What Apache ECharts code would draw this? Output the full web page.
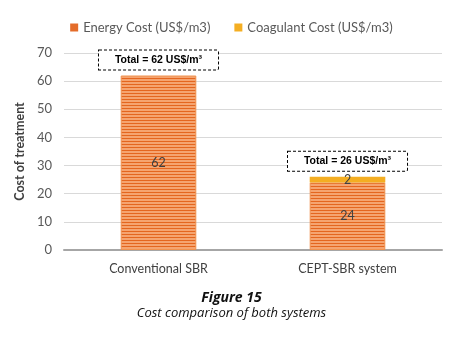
<!DOCTYPE html>
<html><head><meta charset="utf-8">
<script src="https://cdn.jsdelivr.net/npm/echarts@6/dist/echarts.min.js"></script>
<style>html,body{margin:0;padding:0;background:#fff}#c{width:463px;height:338px}</style>
</head><body><div id="c"></div>
<script>
const categories = ['Conventional SBR', 'CEPT-SBR system'];
const energyCost = [62, 24];
const coagulantCost = [null, 2];
const totals = [62, 26];
const yTicks = {min: 0, max: 70, interval: 10};

function stripe() {
  const c = document.createElement('canvas');
  c.width = 4; c.height = 3;
  const g = c.getContext('2d');
  g.fillStyle = '#F5A470'; g.fillRect(0, 0, 4, 3);
  g.fillStyle = '#E4661F'; g.fillRect(0, 0, 4, 1);
  return c;
}
const pattern = {image: stripe(), repeat: 'repeat'};

const chart = echarts.init(document.getElementById('c'));
chart.setOption({
  animation: false,
  textStyle: {fontFamily: 'Lato'},
  title: {
    text: 'Figure 15', subtext: 'Cost comparison of both systems',
    left: 'center', top: 286, itemGap: 2,
    textStyle: {fontFamily: 'Open Sans', fontStyle: 'italic', fontWeight: 'bold', fontSize: 14, color: '#111'},
    subtextStyle: {fontFamily: 'Open Sans', fontStyle: 'italic', fontSize: 13, color: '#111'}
  },
  legend: {
    data: [
      {name: 'Energy Cost (US$/m3)', itemStyle: {color: '#E46C2A', borderWidth: 0, decal: 'none'}},
      {name: 'Coagulant Cost (US$/m3)', itemStyle: {color: '#F4AE22', borderWidth: 0}}
    ],
    top: 16, left: 'center', itemWidth: 8, itemHeight: 8, itemGap: 24, icon: 'rect',
    textStyle: {fontSize: 13, color: '#595959', fontFamily: 'Lato'}
  },
  grid: {left: 64, right: 21, top: 53, bottom: 88},
  xAxis: {
    type: 'category', data: categories,
    axisTick: {show: false},
    axisLine: {lineStyle: {color: '#A6A6A6', width: 2}},
    axisLabel: {fontSize: 12.5, color: '#404040', margin: 12}
  },
  yAxis: {
    type: 'value', min: yTicks.min, max: yTicks.max, interval: yTicks.interval,
    name: 'Cost of treatment', nameLocation: 'middle', nameGap: 33,
    nameTextStyle: {fontSize: 12.5, fontWeight: 'bold', color: '#404040'},
    axisLabel: {fontSize: 13, color: '#595959', margin: 12},
    splitLine: {lineStyle: {color: '#D9D9D9'}}
  },
  series: [
    {
      name: 'Energy Cost (US$/m3)', type: 'bar', stack: 's', barWidth: '40%',
      data: energyCost.map(v => ({value: v, itemStyle: {color: pattern}})),
      itemStyle: {color: '#E46C2A', borderColor: '#F0924F', borderWidth: 1},
      label: {show: true, position: 'inside', color: '#404040', fontSize: 12.5}
    },
    {
      name: 'Coagulant Cost (US$/m3)', type: 'bar', stack: 's', data: coagulantCost, barWidth: '40%',
      itemStyle: {color: '#F4AE22'},
      label: {show: true, position: 'inside', color: '#404040', fontSize: 12.5}
    },
    {
      name: 'Total', type: 'bar', data: totals, barWidth: '40%', barGap: '-100%',
      itemStyle: {color: 'rgba(0,0,0,0)'}, silent: true, z: 10,
      label: {
        show: true, position: 'top', distance: 6,
        formatter: p => 'Total = ' + p.value + ' US$/m³',
        fontFamily: 'Liberation Sans', fontWeight: 'bold', fontSize: 10.5, color: '#000',
        backgroundColor: '#fff', borderColor: '#000', borderWidth: 1, borderType: [3, 2],
        padding: [4, 16, 4, 16]
      }
    }
  ]
});
</script></body></html>
